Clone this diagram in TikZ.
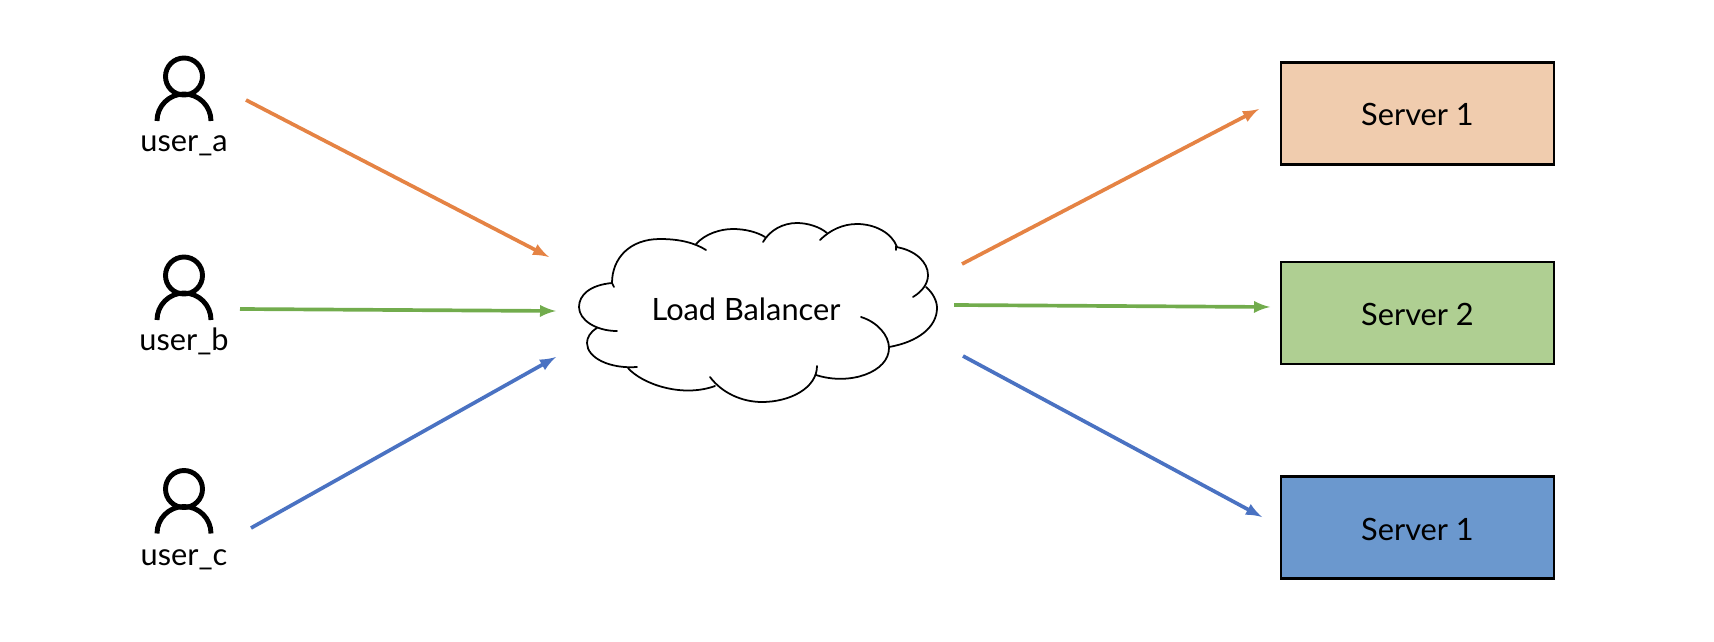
\documentclass[tikz,border=0pt]{standalone}
\usepackage{fontspec}
\setmainfont{Lato}
\definecolor{linea}{HTML}{E58344}
\definecolor{lineb}{HTML}{72AC4D}
\definecolor{linec}{HTML}{4A72C2}
\definecolor{filla}{HTML}{F0CCAE}
\definecolor{fillb}{HTML}{AFCF92}
\definecolor{fillc}{HTML}{6B98CE}
\tikzset{
  every node/.style={font=\fontsize{17.5}{21}\selectfont},
  server/.style={draw=black,line width=1.2pt,minimum width=5.46cm,minimum height=2.04cm,inner sep=0pt,text height=0.5cm,text depth=0pt},
  flow/.style={line width=2.1pt,-{latex}},
  usermark/.style={line width=2.8pt},
  cloudline/.style={line width=1pt,line cap=round}
}
\begin{document}
\begin{tikzpicture}[x=0.02cm,y=-0.02cm]
    \useasboundingbox (0,0) rectangle (1714,642);

    % users
    \foreach \name/\hy/\ly in {a/76.5/151.7,b/275.5/350.7,c/489/565} {
      \draw[usermark] (184,\hy) circle (18.5);
      \draw[usermark] (157,\hy+44.5) arc[start angle=180,end angle=360,radius=27];
      \node[inner sep=0pt,anchor=base] (user\name) at (184,\ly) {user\_\name};
    }

    % servers
    \node[server,fill=filla] (sa) at (1417.5,113.5) {Server 1};
    \node[server,fill=fillb] (sb) at (1417.5,313) {Server 2};
    \node[server,fill=fillc] (sc) at (1417.5,527.5) {Server 1};

    % cloud
    \draw[cloudline] (612,283) .. controls (590,285) and (579,295) .. (579,307) .. controls (579,320) and (596,331) .. (617,331);
    \draw[cloudline] (597,328) .. controls (590,332) and (587,338) .. (587,343) .. controls (587,358) and (610,369) .. (637,367);
    \draw[cloudline] (628,368) .. controls (642,384) and (682,398) .. (715,386);
    \draw[cloudline] (710,377) .. controls (722,393) and (742,402) .. (762,402) .. controls (790,402) and (817,388) .. (817,366);
    \draw[cloudline] (816,375) .. controls (850,386) and (889,372) .. (889,348) .. controls (889,335) and (877,322) .. (861,317);
    \draw[cloudline] (889,347) .. controls (918,342) and (937,327) .. (937,308) .. controls (937,301) and (933,293) .. (926,287);
    \draw[cloudline] (913,297) .. controls (923,291) and (928,283) .. (928,275) .. controls (928,262) and (915,250) .. (896,247) -- (896,250);
    \draw[cloudline] (820,240) .. controls (830,230) and (843,224) .. (857,224) .. controls (875,224) and (892,233) .. (897,247);
    \draw[cloudline] (763,242) .. controls (770,230) and (783,223) .. (797,223) .. controls (808,223) and (820,227) .. (827,233);
    \draw[cloudline] (696,244) .. controls (705,234) and (720,229) .. (733,229) .. controls (745,229) and (757,232) .. (765,237);
    \draw[cloudline] (614,287) -- (612,283) .. controls (612,258) and (630,239) .. (660,239) .. controls (680,239) and (695,243) .. (706,250);
    \node[anchor=base] (lb) at (746,320.7) {Load Balancer};

    % arrows
    \coordinate (aa) at (246,100);
    \coordinate (ab) at (549,257);
    \coordinate (ba) at (240,309);
    \coordinate (bb) at (556,311);
    \coordinate (ca) at (251,528);
    \coordinate (cb) at (556,357);
    \coordinate (da) at (962,264);
    \coordinate (db) at (1259,109);
    \coordinate (ea) at (954,305);
    \coordinate (eb) at (1270,307);
    \coordinate (fa) at (963,356);
    \coordinate (fb) at (1262,517);
    \draw[flow,linea] (aa) -- (ab);
    \draw[flow,lineb] (ba) -- (bb);
    \draw[flow,linec] (ca) -- (cb);
    \draw[flow,linea] (da) -- (db);
    \draw[flow,lineb] (ea) -- (eb);
    \draw[flow,linec] (fa) -- (fb);
\end{tikzpicture}
\end{document}
